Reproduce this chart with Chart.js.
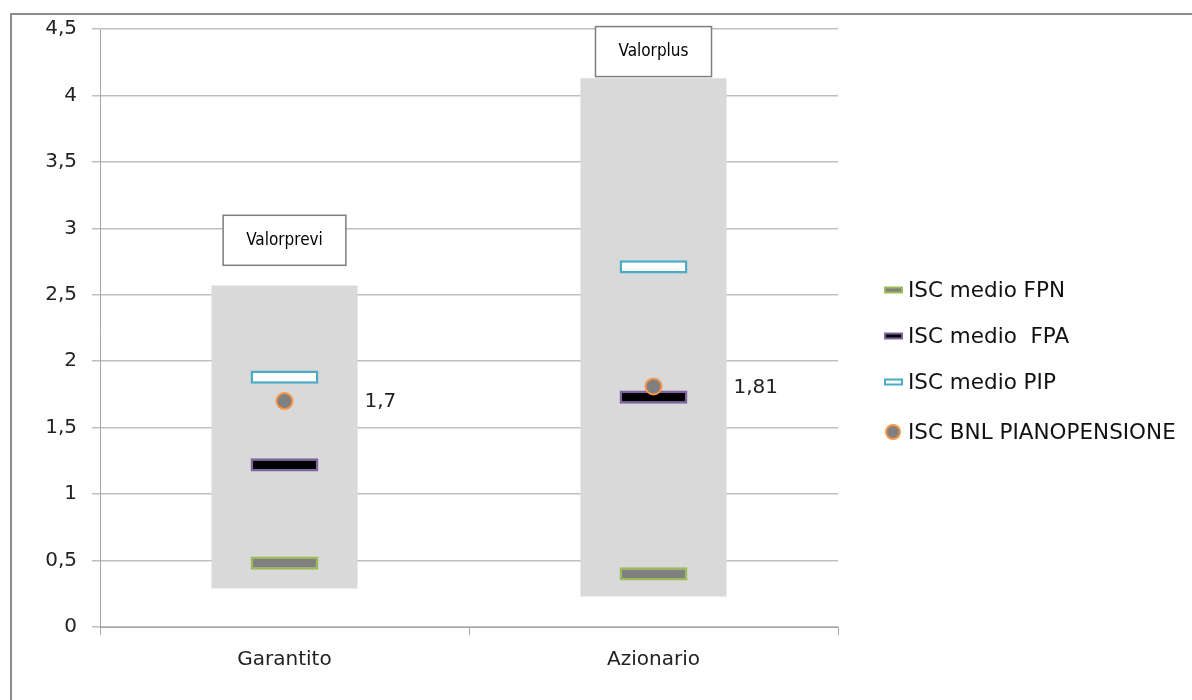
<!DOCTYPE html>
<html>
<head>
<meta charset="utf-8">
<script src="https://cdn.jsdelivr.net/npm/chart.js@4/dist/chart.umd.min.js"></script>
<style>
    html, body { margin: 0; padding: 0; background: #fff; }
    #wrap { position: relative; width: 1192px; height: 700px; overflow: hidden; }
    #frame { position: absolute; left: 10px; top: 13px; width: 1200px; height: 720px;
             border: 2px solid #8c8c8c; box-sizing: border-box; }
    #chart { position: absolute; left: 0; top: 0; }
</style>
</head>
<body>
<div id="wrap">
    <div id="frame"></div>
    <canvas id="chart" width="1192" height="700"></canvas>
</div>
<script>
const categories = ['Garantito', 'Azionario'];
const rangeLow = [0.29, 0.23];
const rangeHigh = [2.57, 4.13];
const fundNames = ['Valorprevi', 'Valorplus'];
const fundLabelY = [2.91, 4.33];
const iscFPN = [0.48, 0.40];
const iscFPA = [1.22, 1.73];
const iscPIP = [1.88, 2.71];
const iscBNL = [1.70, 1.81];
const seriesNames = ['ISC medio FPN', 'ISC medio  FPA', 'ISC medio PIP', 'ISC BNL PIANOPENSIONE'];

const FONT = '"DejaVu Sans", "Open Sans", sans-serif';
const NARROW = '"Liberation Sans Narrow", "DejaVu Sans Condensed", sans-serif';
const HALF = 0.05; // half thickness of the marker bars

const markerStyles = [
    { fill: '#808080', border: '#9bbb59' },  // FPN
    { fill: '#000000', border: '#8064a2' },  // FPA
    { fill: '#ffffff', border: '#4bacc6' },  // PIP
    { fill: '#808080', border: '#f79646' }   // BNL
];

function markerSet(label, values, st) {
    return {
        type: 'bar',
        label: label,
        data: values.map(v => [v - HALF, v + HALF]),
        backgroundColor: st.fill,
        borderColor: st.border,
        borderWidth: 2.5,
        borderSkipped: false,
        grouped: false,
        barPercentage: 0.184,
        categoryPercentage: 1,
        order: 5
    };
}

// labels: fund name boxes, value labels, legend
const extras = {
    id: 'extras',
    afterDatasetsDraw(chart) {
        const ctx = chart.ctx;
        const y = chart.scales.y;
        const boxMeta = chart.getDatasetMeta(0);
        ctx.save();
        // fund name boxes
        ctx.font = '17px ' + NARROW;
        ctx.textAlign = 'center';
        ctx.textBaseline = 'middle';
        fundNames.forEach((name, i) => {
            const el = boxMeta.data[i];
            const cy = y.getPixelForValue(fundLabelY[i]);
            const w = ctx.measureText(name).width + 46;
            const h = 50;
            ctx.fillStyle = '#fff';
            ctx.fillRect(el.x - w / 2, cy - h / 2, w, h);
            ctx.strokeStyle = '#7f7f7f';
            ctx.lineWidth = 1.5;
            ctx.strokeRect(el.x - w / 2, cy - h / 2, w, h);
            ctx.fillStyle = '#000';
            ctx.fillText(name, el.x, cy);
        });
        // value labels next to the BNL dot
        const dotMeta = chart.getDatasetMeta(4);
        ctx.font = '20px ' + FONT;
        ctx.textAlign = 'left';
        ctx.fillStyle = '#222';
        dotMeta.data.forEach((el, i) => {
            ctx.fillText(String(iscBNL[i]).replace('.', ','), el.x + 80, el.y + 1);
        });
        // legend
        const lx = 885, ly = [290, 336, 382, 432];
        ctx.font = '21.5px ' + FONT;
        seriesNames.forEach((name, i) => {
            const st = markerStyles[i];
            ctx.fillStyle = st.fill;
            ctx.strokeStyle = st.border;
            ctx.lineWidth = 2;
            if (i < 3) {
                ctx.fillRect(lx, ly[i] - 2.5, 17, 5);
                ctx.strokeRect(lx, ly[i] - 2.5, 17, 5);
            } else {
                ctx.beginPath();
                ctx.arc(lx + 8, ly[i], 7, 0, Math.PI * 2);
                ctx.fill();
                ctx.stroke();
            }
            ctx.fillStyle = '#111';
            ctx.fillText(name, lx + 23, ly[i] + 1);
        });
        ctx.restore();
    }
};

new Chart(document.getElementById('chart').getContext('2d'), {
    data: {
        labels: categories,
        datasets: [
            {
                type: 'bar',
                label: 'range',
                data: rangeLow.map((v, i) => [v, rangeHigh[i]]),
                backgroundColor: '#d9d9d9',
                borderWidth: 0,
                grouped: false,
                barPercentage: 0.396,
                categoryPercentage: 1,
                order: 10
            },
            markerSet(seriesNames[0], iscFPN, markerStyles[0]),
            markerSet(seriesNames[1], iscFPA, markerStyles[1]),
            markerSet(seriesNames[2], iscPIP, markerStyles[2]),
            {
                type: 'line',
                label: seriesNames[3],
                data: iscBNL,
                showLine: false,
                pointRadius: 8,
                pointBackgroundColor: markerStyles[3].fill,
                pointBorderColor: markerStyles[3].border,
                pointBorderWidth: 2,
                order: 1
            }
        ]
    },
    options: {
        responsive: false,
        animation: false,
        layout: { padding: { left: 0, top: 29, right: 1192 - 838, bottom: 0 } },
        plugins: {
            legend: { display: false },
            tooltip: { enabled: false }
        },
        scales: {
            x: {
                offset: true,
                grid: { drawOnChartArea: false, offset: true, tickLength: 8, color: '#a6a6a6' },
                border: { color: '#a6a6a6' },
                ticks: { color: '#222', font: { family: FONT, size: 20 }, padding: 13 },
                afterFit: s => { s.height = 700 - 627; }
            },
            y: {
                min: 0,
                max: 4.5,
                ticks: {
                    stepSize: 0.5,
                    color: '#222',
                    font: { family: FONT, size: 20 },
                    padding: 15,
                    callback: v => String(v).replace('.', ',')
                },
                grid: { color: '#bfbfbf', tickLength: 8, lineWidth: 1.5 },
                border: { color: '#a6a6a6' },
                afterFit: s => { s.width = 100; }
            }
        }
    },
    plugins: [extras]
});
</script>
</body>
</html>
